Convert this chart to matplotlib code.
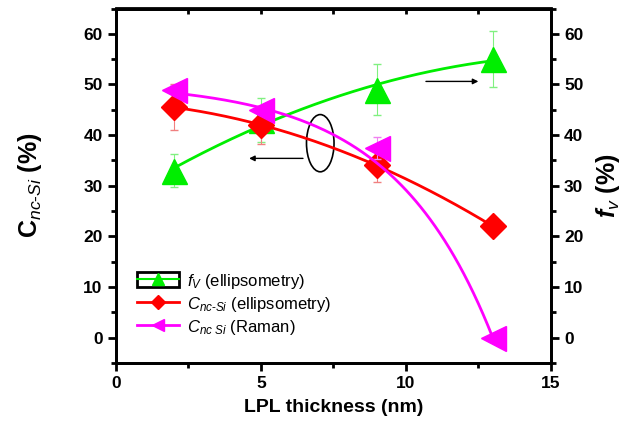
import numpy as np
import matplotlib
matplotlib.use("Agg")
import matplotlib.pyplot as plt
from matplotlib.patches import Ellipse, Rectangle
from matplotlib.lines import Line2D

plt.rcParams['font.family'] = ['Liberation Sans', 'DejaVu Sans']
plt.rcParams['mathtext.fontset'] = 'custom'
plt.rcParams['mathtext.rm'] = 'Liberation Sans'
plt.rcParams['mathtext.it'] = 'Liberation Sans:italic'
plt.rcParams['mathtext.bf'] = 'Liberation Sans:bold'
plt.rcParams['mathtext.bfit'] = 'Liberation Sans:italic:bold'

# data
thick = [2, 5, 9, 13]
fv = [33, 43, 49, 55]
fv_err = [3.2, 4.4, 5.0, 5.5]
c_ell = [45.5, 42, 34, 22]
c_ell_err = [4.5, 3.8, 3.3, 0.5]
c_ram = [49, 45, 37.5, 0]
c_ram_err = [0.8, 0.5, 2.2, 0.3]


def exp_fit(x, y, err, xs):
    # weighted fit of y = a + b*exp(x/c): c on a grid, a and b by least squares
    x = np.asarray(x, float)
    y = np.asarray(y, float)
    w = 1.0 / np.asarray(err, float)
    best = None
    for c in np.linspace(1, 20, 800):
        A = np.column_stack([np.ones_like(x), np.exp(x / c)])
        coef, *_ = np.linalg.lstsq(A * w[:, None], y * w, rcond=None)
        r = np.sum(((A @ coef - y) * w) ** 2)
        if best is None or r < best[0]:
            best = (r, c, coef)
    _, c, coef = best
    return coef[0] + coef[1] * np.exp(xs / c)


fig = plt.figure(figsize=(6.23, 4.25), dpi=100)
ax = fig.add_axes([0.186, 0.146, 0.698, 0.834])
ax2 = ax.twinx()
# left-axis series sit above the green one
ax.set_zorder(ax2.get_zorder() + 1)
ax.patch.set_visible(False)

xf = np.linspace(2, 13, 200)

# red: C nc-Si ellipsometry
ax.errorbar(thick, c_ell, yerr=c_ell_err, fmt='none', ecolor='#f08080', elinewidth=0.8, capsize=3)
ax.plot(xf, np.polyval(np.polyfit(thick, c_ell, 2), xf), color='red', lw=2)
ax.plot(thick, c_ell, 'D', color='red', ms=13, mec='red')

# magenta: C nc-Si Raman
ax.errorbar(thick, c_ram, yerr=c_ram_err, fmt='none', ecolor='#f080f0', elinewidth=0.8, capsize=3)
ax.plot(xf, exp_fit(thick, c_ram, c_ram_err, xf), color='magenta', lw=2)
ax.plot(thick, c_ram, '<', color='magenta', ms=18, mec='magenta')

# green: fV on right axis
ax2.errorbar(thick, fv, yerr=fv_err, fmt='none', ecolor='#80f080', elinewidth=0.8, capsize=3)
ax2.plot(xf, np.polyval(np.polyfit(thick, fv, 2), xf), color='#00ee00', lw=2)
ax2.plot(thick, fv, '^', color='#00ee00', ms=18, mec='#00ee00')

for a in (ax, ax2):
    a.set_ylim(-5, 65)
    a.set_yticks(range(0, 61, 10))
    a.set_yticks(range(-5, 66, 5), minor=True)
    a.tick_params(which='major', length=6, width=2, labelsize=12.5)
    a.tick_params(which='minor', length=3.5, width=2)
    for lab in a.get_yticklabels():
        lab.set_fontweight('bold')
    for s in a.spines.values():
        s.set_linewidth(2)

ax.set_xlim(0, 15)
ax.set_xticks([0, 5, 10, 15])
ax.set_xticks(np.arange(0, 15.1, 2.5), minor=True)
ax.tick_params(axis='x', labelsize=12.5)
for lab in ax.get_xticklabels():
    lab.set_fontweight('bold')

# top ticks point inward
top = ax.secondary_xaxis('top')
top.set_xticks([0, 5, 10, 15])
top.set_xticks(np.arange(0, 15.1, 2.5), minor=True)
top.tick_params(which='both', direction='in', length=4.5, width=2, labeltop=False)
top.spines['top'].set_linewidth(2)

ax.set_xlabel('LPL thickness (nm)', fontsize=14, fontweight='bold', labelpad=6)
ax.set_ylabel(r'$\mathbf{C}_{\mathit{nc}\text{-}\mathit{Si}}$ (%)', fontsize=18, fontweight='bold', labelpad=28)
ax2.set_ylabel(r'$\mathbfit{f}_{\mathit{v}}$ (%)', fontsize=18, fontweight='bold', labelpad=8)

# ellipse and arrows
ax.add_patch(Ellipse((7.05, 38.4), 0.95, 11.3, fill=False, ec='black', lw=1.2))
ax.annotate('', xy=(4.5, 35.4), xytext=(6.55, 35.4),
            arrowprops=dict(arrowstyle='-|>', color='black', lw=1, mutation_scale=8))
ax.annotate('', xy=(12.6, 50.6), xytext=(10.6, 50.6),
            arrowprops=dict(arrowstyle='-|>', color='black', lw=1, mutation_scale=8))

# legend
h1 = (Rectangle((0, 0), 1, 1, fc='none', ec='black', lw=2),
      Line2D([], [], color='#00ee00', marker='^', ms=8, lw=1.5))
h2 = Line2D([], [], color='red', marker='D', ms=7, lw=2)
h3 = Line2D([], [], color='magenta', marker='<', ms=9, lw=2)
ax.legend([h1, h2, h3],
          [r'$\mathit{f}_{\mathit{V}}$ (ellipsometry)',
           r'$\mathit{C}_{\mathit{nc}\text{-}\mathit{Si}}$ (ellipsometry)',
           r'$\mathit{C}_{\mathit{nc\ Si}}$ (Raman)'],
          loc='upper left', bbox_to_anchor=(0.015, 0.3), frameon=False,
          fontsize=12, handlelength=2.5, handleheight=1.0, labelspacing=0.25,
          handletextpad=0.5)

fig.savefig('out.png', dpi=100)
